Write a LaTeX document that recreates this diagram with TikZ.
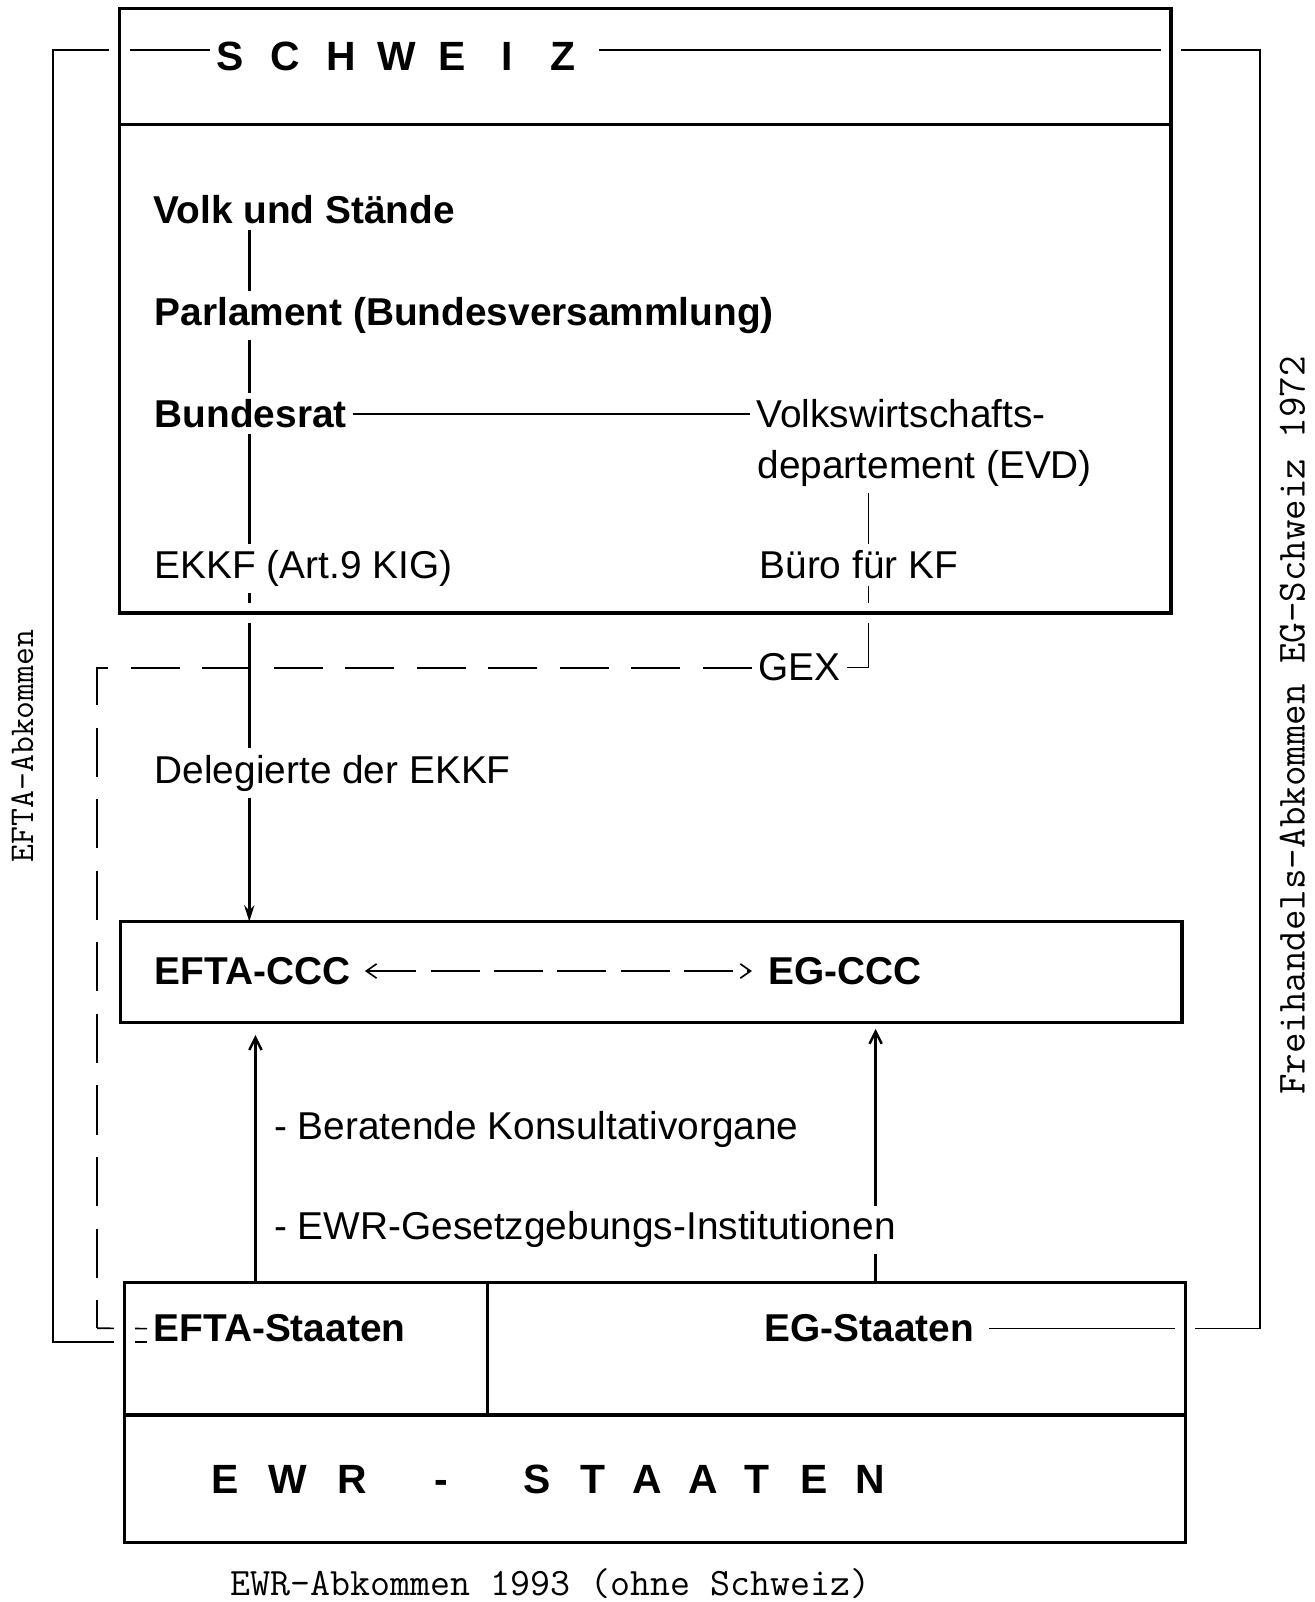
\documentclass[tikz,border=0pt]{standalone}
\usepackage{fontspec}
\setmainfont{Liberation Sans}
\usetikzlibrary{arrows.meta}
\newcommand{\Lbox}[1]{\makebox[0pt][c]{#1}}
\newcommand{\SpL}[1]{\makebox[27.1pt][c]{#1}}
\begin{document}
\begin{tikzpicture}[x=0.5pt,y=-0.5pt,
  txt/.style={inner sep=3pt, anchor=base west, font=\fontsize{19pt}{22pt}\selectfont},
  btxt/.style={txt, font=\fontsize{19pt}{22pt}\selectfont\bfseries},
  spaced/.style={inner sep=0pt, anchor=base west, font=\fontsize{20pt}{24pt}\selectfont\bfseries},
  mono/.style={inner sep=0pt, font=\fontsize{#1}{22pt}\selectfont\ttfamily},
  box/.style 2 args={minimum width=#1*0.5pt, minimum height=#2*0.5pt, anchor=north west, inner sep=0pt, outer sep=0pt},
  frame/.style={line width=1.6pt},
  halo/.style={white, line width=10pt},
  conn/.style={line width=1.2pt},
  thin/.style={line width=0.8pt},
  dsh/.style={line width=0.9pt, dash pattern=on 24pt off 11pt}]
\useasboundingbox[fill=white] (0,0) rectangle (1287,1568);

% boxes (shapes only, borders drawn later)
\node[box={1029}{114}] (chhead) at (117,8) {};
\node[box={1029}{478}] (chbody) at (117,122) {};
\node[box={1039}{99}] (ccc) at (118,902) {};
\node[box={355}{130}] (eftabox) at (122,1255) {};
\node[box={683}{130}] (egbox) at (477,1255) {};
\node[box={1038}{125}] (ewrbox) at (122,1385) {};

% helper columns
\coordinate (vx) at (244,0);
\coordinate (bx) at (850,0);
\coordinate (lb) at (52,0);
\coordinate (rb) at (1233,0);
\coordinate (ax1) at (250,0);
\coordinate (ax2) at (857,0);
\coordinate (dc) at (95,1300);

% texts
\node[spaced] (schweiz) at (198,69) {\SpL{S}\SpL{C}\SpL{H}\SpL{W}\SpL{E}\SpL{I}\SpL{Z}};
\node[btxt] (volk) at (144,218.5) {Volk und Stände};
\node[btxt] (parl) at (145,318.5) {Parlament (Bundesversammlung)};
\node[btxt] (bundesrat) at (145,418.5) {Bundesrat};
\node[txt] (evd1) at (734,418.5) {Volkswirtschafts-};
\node[txt] (evd2) at (735,468.5) {departement (EVD)};
\node[txt] (ekkf) at (145,566.5) {EKKF (Art.9 KIG)};
\node[txt] (buero) at (737,566.5) {Büro für KF};
\node[txt] (gex) at (736,666.5) {GEX};
\node[txt] (deleg) at (145,766.5) {Delegierte der EKKF};
\node[btxt] (efccc) at (145,963.5) {EFTA-CCC};
\node[btxt] (egccc) at (746,963.5) {EG-CCC};
\node[txt] (berat) at (262,1115.5) {- Beratende Konsultativorgane};
\node[btxt] (eftast) at (144,1313.5) {EFTA-Staaten};
\node[btxt] (egst) at (742,1313.5) {EG-Staaten};
\node[spaced] (ewrst) at (220,1461.5) {\Lbox{E}\hspace{30.5pt}\Lbox{W}\hspace{31.5pt}\Lbox{R}\hspace{44pt}\Lbox{-}\hspace{46.5pt}\Lbox{S}\hspace{27.5pt}\Lbox{T}\hspace{26.5pt}\Lbox{A}\hspace{27.5pt}\Lbox{A}\hspace{26.5pt}\Lbox{T}\hspace{27.5pt}\Lbox{E}\hspace{27.5pt}\Lbox{N}};
\node[mono=17pt, rotate=90] (eftaab) at (22,730) {EFTA-Abkommen};
\node[mono=19.5pt, rotate=90] (freih) at (1265,710) {Freihandels-Abkommen EG-Schweiz 1972};
\node[mono=19pt, anchor=base] (cap) at (539,1562) {EWR-Abkommen 1993 (ohne Schweiz)};

% connectors crossing the frames (drawn before the haloed frames)
\draw[conn] (volk.south -| vx) -- (parl.north -| vx);
\draw[conn] (parl.south -| vx) -- (bundesrat.north -| vx);
\draw[conn] (bundesrat.south -| vx) -- (ekkf.north -| vx);
\draw[conn] (ekkf.south -| vx) -- (deleg.north -| vx);
\draw[thin] (bundesrat.east) -- (evd1.west);
\draw[thin] (evd2.south -| bx) -- (buero.north -| bx);
\draw[thin] (buero.south -| bx) |- (gex.east);
\draw[dsh] (gex.west) -| (dc);
\draw[thin] (dc) -- (eftast.west);
\draw[thin] ([xshift=4pt,yshift=3pt]schweiz.west) -| (lb |- eftast.base west) -- (eftast.base west);
\draw[thin] ([xshift=4pt,yshift=3pt]schweiz.east) -| (rb |- egst.east) -- ([xshift=4pt]egst.east);

% frames with white halo
\draw[halo] (chhead.north west) rectangle (chbody.south east);
\draw[halo] (eftabox.north west) rectangle (ewrbox.south east);
\draw[frame] (chhead.north west) rectangle (chbody.south east);
\draw[frame] (chhead.south west) -- (chhead.south east);
\draw[frame] (ccc.north west) rectangle (ccc.south east);
\draw[frame] (eftabox.north west) rectangle (ewrbox.south east);
\draw[frame] (eftabox.north east) -- (eftabox.south east);
\draw[frame] (ewrbox.north west) -- (ewrbox.north east);

% arrows
\draw[conn, -{Stealth[length=8pt,width=5pt]}] (deleg.south -| vx) -- (ccc.north -| vx);
\draw[conn, -{Straight Barb[length=6pt,width=6pt]}, shorten >=6pt] (ax1 |- eftabox.north) -- (ax1 |- ccc.south);
\draw[conn, -{Straight Barb[length=6pt,width=6pt]}, shorten >=3pt] (ax2 |- egbox.north) -- (ax2 |- ccc.south);
\draw[thin, dash pattern=on 24pt off 7pt, {Straight Barb[length=5pt,width=7pt]}-{Straight Barb[length=5pt,width=7pt]}, shorten <=4pt, shorten >=5pt] (efccc.east) -- (egccc.west);

% text that interrupts the right arrow
\node[txt, fill=white] (ewrges) at (262,1213.5) {- EWR-Gesetzgebungs-Institutionen};
\end{tikzpicture}
\end{document}
